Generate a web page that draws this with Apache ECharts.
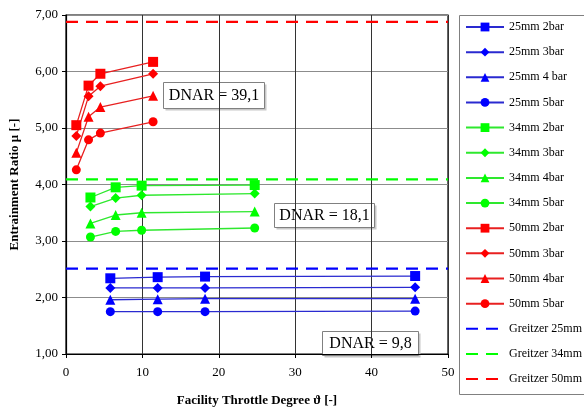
<!DOCTYPE html>
<html><head><meta charset="utf-8">
<script src="https://cdn.jsdelivr.net/npm/echarts@6/dist/echarts.min.js"></script>
<style>html,body{margin:0;padding:0;background:#fff}#c{width:584px;height:412px}</style>
</head><body><div id="c"></div>
<script>
// Throttle degree positions per nozzle group
const x25 = [5.8, 12.0, 18.2, 45.7];
const x34 = [3.2, 6.5, 9.9, 24.7];
const x50 = [1.35, 2.95, 4.5, 11.4];

const s25_2 = [2.34, 2.36, 2.37, 2.38];
const s25_3 = [2.17, 2.17, 2.17, 2.18];
const s25_4 = [1.96, 1.97, 1.98, 1.98];
const s25_5 = [1.75, 1.75, 1.75, 1.76];

const s34_2 = [3.77, 3.95, 3.98, 3.99];
const s34_3 = [3.61, 3.76, 3.81, 3.84];
const s34_4 = [3.31, 3.46, 3.50, 3.52];
const s34_5 = [3.07, 3.17, 3.19, 3.23];

const s50_2 = [5.05, 5.75, 5.96, 6.17];
const s50_3 = [4.86, 5.56, 5.74, 5.96];
const s50_4 = [4.56, 5.20, 5.37, 5.57];
const s50_5 = [4.26, 4.79, 4.91, 5.11];

const greitzerX = [0, 50];
const greitzer25 = 2.51;
const greitzer34 = 4.09;
const greitzer50 = 6.88;

const yTicks = [1, 2, 3, 4, 5, 6, 7];
const xTicks = [0, 10, 20, 30, 40, 50];

const FONT = '"Liberation Serif", "DejaVu Serif", serif';
const pair = (xs, ys) => xs.map((x, i) => [x, ys[i]]);

function dataSeries(name, xs, ys, color, lineColor, symbol, size) {
  return {
    name, type: 'line', data: pair(xs, ys), symbol, symbolSize: size,
    lineStyle: { color: lineColor, width: 1.3 },
    itemStyle: { color: color },
    emphasis: { disabled: true }, z: 3
  };
}
function greitzer(name, y, color) {
  return {
    name, type: 'line', data: greitzerX.map(x => [x, y]), symbol: 'none',
    lineStyle: { color, width: 2.2, type: [12, 8] },
    itemStyle: { color: 'rgba(0,0,0,0)' }, z: 2
  };
}
const SQ = 'rect', DI = 'diamond', TR = 'triangle', CI = 'circle';
const B = '#0000ff', BL = '#2a2ad0', G = '#00ff00', GL = '#2ee82e', R = '#ff0000', RL = '#e82020';

const series = [
  dataSeries('25mm 2bar', x25, s25_2, B, BL, SQ, 10),
  dataSeries('25mm 3bar', x25, s25_3, B, BL, DI, 10),
  dataSeries('25mm 4 bar', x25, s25_4, B, BL, TR, 10),
  dataSeries('25mm 5bar', x25, s25_5, B, BL, CI, 9),
  dataSeries('34mm 2bar', x34, s34_2, G, GL, SQ, 10),
  dataSeries('34mm 3bar', x34, s34_3, G, GL, DI, 10),
  dataSeries('34mm 4bar', x34, s34_4, G, GL, TR, 10),
  dataSeries('34mm 5bar', x34, s34_5, G, GL, CI, 9),
  dataSeries('50mm 2bar', x50, s50_2, R, RL, SQ, 10),
  dataSeries('50mm 3bar', x50, s50_3, R, RL, DI, 10),
  dataSeries('50mm 4bar', x50, s50_4, R, RL, TR, 10),
  dataSeries('50mm 5bar', x50, s50_5, R, RL, CI, 9),
  greitzer('Greitzer 25mm', greitzer25, '#0000ff'),
  greitzer('Greitzer 34mm', greitzer34, '#00ff00'),
  greitzer('Greitzer 50mm', greitzer50, '#ff0000')
];

function box(x, y, w, h, text) {
  return {
    type: 'group', left: x, top: y, children: [
      { type: 'rect', shape: { x: 2, y: 2, width: w, height: h }, style: { fill: '#c8c8c8' } },
      { type: 'rect', shape: { x: 0, y: 0, width: w, height: h }, style: { fill: '#fff', stroke: '#808080', lineWidth: 1 } },
      { type: 'text', x: w / 2, y: h / 2, style: { text, fill: '#000', font: '16px ' + FONT, textAlign: 'center', textVerticalAlign: 'middle' } }
    ]
  };
}

const chart = echarts.init(document.getElementById('c'), null, { renderer: 'canvas' });
chart.setOption({
  animation: false,
  backgroundColor: '#fff',
  grid: { left: 62, right: 136, top: 15, bottom: 48, show: true, borderColor: '#000', borderWidth: 1.2 },
  xAxis: {
    type: 'value', min: 0, max: 50, interval: 10,
    name: 'Facility Throttle Degree ϑ [-]', nameLocation: 'middle', nameGap: 40,
    nameTextStyle: { fontFamily: FONT, fontWeight: 'bold', fontSize: 13, color: '#000' },
    axisLine: { lineStyle: { color: '#000', width: 1.2 } },
    axisTick: { show: true, length: 4, lineStyle: { color: '#000' } },
    axisLabel: { fontFamily: FONT, fontSize: 13, color: '#000', margin: 12 },
    splitLine: { lineStyle: { color: '#333', width: 1 } }
  },
  yAxis: {
    type: 'value', min: 1, max: 7, interval: 1,
    name: 'Entrainment Ratio μ [-]', nameLocation: 'middle', nameGap: 45,
    nameTextStyle: { fontFamily: FONT, fontWeight: 'bold', fontSize: 13, color: '#000' },
    axisLine: { show: true, lineStyle: { color: '#000', width: 1.2 } },
    axisTick: { show: true, length: 4, lineStyle: { color: '#000' } },
    axisLabel: { fontFamily: FONT, fontSize: 13, color: '#000', margin: 8,
      formatter: v => v.toFixed(2).replace('.', ',') },
    splitLine: { lineStyle: { color: '#8c8c8c', width: 1 } }
  },
  legend: {
    orient: 'vertical', left: 465, top: 21, padding: 0, itemWidth: 38, itemHeight: 11, itemGap: 13.15,
    textStyle: { fontFamily: FONT, fontSize: 12, color: '#000' },
    data: series.map(s => s.name), selectedMode: false
  },
  graphic: [
    { type: 'rect', left: 457, top: 13, shape: { width: 140, height: 379 }, style: { fill: 'none', stroke: '#808080', lineWidth: 1 }, z: -1 },
    box(163, 82, 101, 26, 'DNAR = 39,1'),
    box(274, 203, 100, 24, 'DNAR = 18,1'),
    box(322, 331, 96, 24, 'DNAR = 9,8')
  ],
  series
});
</script></body></html>
